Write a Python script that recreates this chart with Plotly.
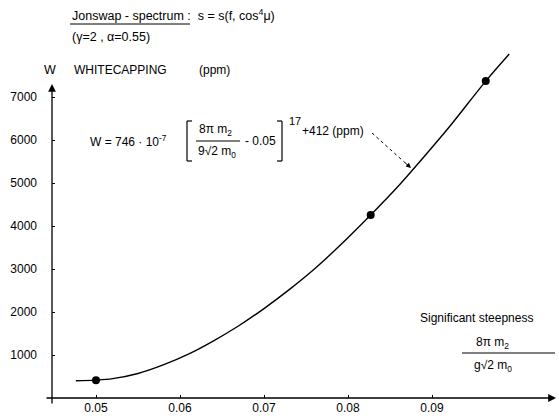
import plotly.graph_objects as go

# ---- data ----
steep_curve = [0.0476, 0.050, 0.052, 0.055, 0.058, 0.061, 0.064, 0.067, 0.070,
               0.073, 0.076, 0.079, 0.0827, 0.086, 0.089, 0.092, 0.0964, 0.0992]
w_curve = [400, 415, 450, 570, 770, 1020, 1330, 1680, 2080,
           2520, 3000, 3540, 4256, 4930, 5600, 6290, 7370, 8000]
steep_points = [0.050, 0.0827, 0.0964]
w_points = [412, 4256, 7370]
x_ticks = [0.05, 0.06, 0.07, 0.08, 0.09]
y_ticks = [1000, 2000, 3000, 4000, 5000, 6000, 7000]

W, H = 559, 416
L, R, T, B = 52, 2, 40, 18
PW, PH = W - L - R, H - T - B
FONT = "Liberation Sans"

def px(x):
    return (x - L) / PW

def py(y):
    return (H - B - y) / PH

fig = go.Figure()
fig.add_trace(go.Scatter(x=steep_curve, y=w_curve, mode="lines",
                         line=dict(color="black", width=1.4, shape="spline"),
                         showlegend=False, hoverinfo="skip"))
fig.add_trace(go.Scatter(x=steep_points, y=w_points, mode="markers",
                         marker=dict(color="black", size=8),
                         showlegend=False))

ann = []
def text(x, y, s, size=12, anchor="left"):
    ann.append(dict(xref="paper", yref="paper", x=px(x), y=py(y), text=s,
                    showarrow=False, xanchor=anchor, yanchor="middle",
                    font=dict(family=FONT, size=size, color="black")))

# headings
text(70, 15, "Jonswap - spectrum :  s = s(f, cos<sup>4</sup>μ)", 12.5)
text(70, 37, "(γ=2 , α=0.55)", 12.5)
text(42, 70, "W", 12.5)
text(72, 70, "WHITECAPPING", 12)
text(197, 70, "(ppm)", 12)

# formula
text(88, 141, "W = 746 · 10<sup>-7</sup>", 12)
text(197, 130, "8π m<sub>2</sub>", 12)
text(196, 152, "9√2 m<sub>0</sub>", 12)
text(243, 141, "- 0.05", 12)
text(287, 121, "17", 11)
text(300, 131, "+412 (ppm)", 12)

# axis label
text(418, 318, "Significant steepness", 12)
text(474, 343, "8π m<sub>2</sub>", 12)
text(472, 366, "g√2 m<sub>0</sub>", 12)

# axis arrows
ann.append(dict(xref="paper", yref="paper", x=px(52), y=py(84), ax=0, ay=321,
                showarrow=True, arrowhead=2, arrowsize=1.2, arrowwidth=1.3,
                arrowcolor="black", text=""))
ann.append(dict(xref="paper", yref="paper", x=px(556), y=py(398), ax=-511, ay=0,
                showarrow=True, arrowhead=2, arrowsize=1.2, arrowwidth=1.3,
                arrowcolor="black", text=""))
# pointer arrow head
ann.append(dict(xref="paper", yref="paper", x=px(411), y=py(168), ax=-9, ay=-8,
                showarrow=True, arrowhead=2, arrowsize=1, arrowwidth=1,
                arrowcolor="black", text=""))

shapes = []
def line(x0, y0, x1, y1, w=1, dash="solid"):
    shapes.append(dict(type="line", xref="paper", yref="paper",
                       x0=px(x0), y0=py(y0), x1=px(x1), y1=py(y1),
                       line=dict(color="black", width=w, dash=dash)))

line(70, 24, 190, 24)          # underline Jonswap - spectrum
line(196, 141, 240, 141)       # formula fraction bar
# brackets
line(187, 121, 187, 161, 1.2)
line(187, 121, 192, 121, 1.2)
line(187, 161, 192, 161, 1.2)
line(282, 121, 282, 161, 1.2)
line(277, 121, 282, 121, 1.2)
line(277, 161, 282, 161, 1.2)
line(462, 353, 555, 353)       # axis-label fraction bar
line(372, 133, 402, 160, 1, "dot")  # pointer

fig.update_layout(
    width=W, height=H, margin=dict(l=L, r=R, t=T, b=B, autoexpand=False),
    plot_bgcolor="white", paper_bgcolor="white",
    annotations=ann, shapes=shapes,
    xaxis=dict(range=[0.05 - 44 / 8400, 0.05 + 461 / 8400], tickvals=x_ticks,
               tickformat=".2f", ticks="inside", ticklen=3, tickcolor="black",
               ticklabelstandoff=1, automargin=False,
               showgrid=False, zeroline=False, showline=False,
               tickfont=dict(family=FONT, size=12, color="black")),
    yaxis=dict(range=[0, 358 / 0.043], tickvals=y_ticks,
               ticks="inside", ticklen=3, tickcolor="black",
               ticklabelstandoff=14, automargin=False,
               showgrid=False, zeroline=False, showline=False,
               tickfont=dict(family=FONT, size=12, color="black")),
)

fig.write_html("out.html",
               config={"displayModeBar": False},
               post_script="document.body.style.margin='0';"
                           "document.body.style.overflow='hidden';")
